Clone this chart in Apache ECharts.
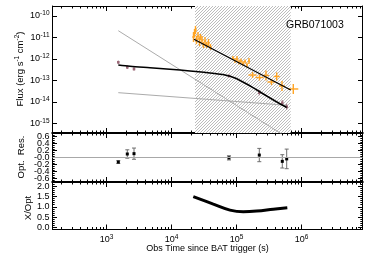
<!DOCTYPE html>
<html><head><meta charset="utf-8">
<script src="https://cdn.jsdelivr.net/npm/echarts@6/dist/echarts.min.js"></script>
<style>html,body{margin:0;padding:0;background:#fff}#c{width:374px;height:267px}</style>
</head><body><div id="c"></div>
<script>
// ---------- data ----------
const xrayT = [21800,22600,23400,24200,25600,27000,27900,29500,31100,32800,34600,37100,39800,
  88400,94800,101800,109300,117300,125900,135100,145000,155700,
  176300,225900,284400,345500,415300,501200,747800];
const xrayF = [1.055e-11,1.62e-11,2.23e-11,7.65e-12,1.174e-11,6.17e-12,1.055e-11,7.65e-12,4.48e-12,6.87e-12,4.48e-12,5.55e-12,3.61e-12,
  1.113e-12,8.51e-13,1.0e-12,7.25e-13,8.07e-13,6.17e-13,7.65e-13,5.26e-13,8.07e-13,
  1.80e-13,1.378e-13,1.708e-13,8.51e-14,1.535e-13,5.55e-14,4.03e-14];
const xrayTerrDex = [0.02,0.02,0.02,0.02,0.02,0.02,0.02,0.02,0.02,0.02,0.02,0.02,0.02,
  0.015,0.015,0.015,0.015,0.015,0.015,0.015,0.015,0.015,
  0.062,0.062,0.046,0.062,0.046,0.046,0.077];
const xrayFerrDex = [0.23,0.19,0.19,0.19,0.19,0.19,0.14,0.19,0.14,0.19,0.14,0.19,0.14,
  0.093,0.116,0.14,0.116,0.116,0.116,0.093,0.116,0.14,
  0.14,0.14,0.23,0.14,0.19,0.23,0.23];

const optT = [1520,2090,2650,76600,224300,506500,592000];
const optF = [7.03e-13,4.11e-13,3.43e-13,1.62e-13,2.71e-14,9.27e-15,6.04e-15];
const optFerrDex = [0.08,0.08,0.08,0.06,0.12,0.12,0.14];
const optRes = [-0.13,0.10,0.11,-0.01,0.07,-0.11,-0.04];
const optResErr = [0.04,0.12,0.16,0.06,0.19,0.19,0.28];

const optFitT = [1520,2300,4670,9480,19260,39100,66500,94800,143500,200000,291500,405000,592000];
const optFitF = [5.26e-13,4.57e-13,3.90e-13,3.32e-13,2.77e-13,2.23e-13,1.80e-13,1.306e-13,6.87e-14,3.81e-14,1.90e-14,1.055e-14,5.55e-15];
const xrayFitT = [22190,682100];
const xrayFitF = [8.25e-12,3.61e-14];
const compSteepT = [1520,682000];
const compSteepF = [2.07e-11,1.764e-16];
const compFlatT = [1520,592000];
const compFlatF = [2.71e-14,7.03e-15];

const ratioT = [21650,44000,79400,127300,204600,368000,605000];
const ratioV = [1.49,1.13,0.84,0.76,0.79,0.88,0.95];

const hatchT = [23000,682000];

const xMajor = [1e3,1e4,1e5,1e6];
const fluxMajor = [1e-15,1e-14,1e-13,1e-12,1e-11,1e-10];
const resMajor = [-0.6,-0.4,-0.2,0,0.2,0.4,0.6];
const ratioMajor = [0,0.5,1.0,1.5,2.0];

// ---------- layout constants ----------
const XMIN = 147.7, XMAX = 8.68e6;
const YMIN = 3.61e-16, YMAX = 2.92e-10;
const FONT = '"Liberation Sans", Arial, Helvetica, sans-serif';
const ORANGE = '#ffa424';
const OPTC = '#9c6b7a';

const xMinor = [];
for (let d = 100; d <= 1e6; d *= 10) for (let m = 2; m <= 9; m++) { const v = m * d; if (v > XMIN && v < XMAX) xMinor.push(v); }
const resMinor = [];
for (let k = -13; k <= 13; k++) if (k % 4 !== 0) resMinor.push(+(k * 0.05).toFixed(2));
const ratioMinor = [];
for (let k = -1; k <= 22; k++) if (k % 5 !== 0) ratioMinor.push(+(k * 0.1).toFixed(1));

const richLbl = {
  b: {fontSize: 9, fontFamily: FONT, color: '#000', lineHeight: 12},
  s: {fontSize: 6.5, fontFamily: FONT, color: '#000', lineHeight: 6, verticalAlign: 'top'}
};

const grids = [
  {left: 52.5, right: 11.5, top: 6, height: 127},
  {left: 52.5, right: 11.5, top: 133, height: 49},
  {left: 52.5, right: 11.5, top: 182, height: 47.5}
];

function xAx(gi, pos, major, showLabel, lineW) {
  return {
    gridIndex: gi, type: 'log', logBase: 10, min: XMIN, max: XMAX, position: pos,
    axisLine: {show: major, onZero: false, lineStyle: {color: '#000', width: lineW}},
    axisTick: {show: true, inside: true, length: major ? 5 : 2.5, customValues: major ? xMajor : xMinor,
      lineStyle: {color: '#000', width: 1}},
    axisLabel: {show: showLabel, customValues: xMajor, interval: 0, margin: 4, hideOverlap: false,
      showMinLabel: true, showMaxLabel: true,
      formatter: v => '{b|10}{s|' + Math.round(Math.log10(v)) + '}', rich: richLbl},
    splitLine: {show: false}, minorTick: {show: false}, minorSplitLine: {show: false}
  };
}
// labels are split over two co-located axes so that neighbouring labels never collide
function yAx(gi, pos, major, cfg) {
  const lbls = major ? cfg.labelsA : cfg.labelsB;
  const o = {
    gridIndex: gi, type: cfg.type, min: cfg.min, max: cfg.max, position: pos,
    axisLine: {show: major, onZero: false, lineStyle: {color: '#000', width: 1}},
    axisTick: {show: major || !!cfg.minor, inside: true, length: major ? 4.5 : 2.2,
      customValues: major ? cfg.major : (cfg.minor || cfg.major), lineStyle: {color: '#000', width: 1}},
    axisLabel: {show: pos === 'left' && lbls.length > 0, customValues: lbls.length ? lbls : cfg.major,
      interval: 0, margin: 3, hideOverlap: false, showMinLabel: true, showMaxLabel: true,
      formatter: cfg.fmt, rich: richLbl, fontSize: 9, fontFamily: FONT, color: '#000'},
    splitLine: {show: false}, minorTick: {show: false}, minorSplitLine: {show: false}
  };
  if (cfg.type === 'log') o.logBase = 10;
  return o;
}
const yCfg = [
  {type: 'log', min: YMIN, max: YMAX, major: fluxMajor, minor: null,
    labelsA: fluxMajor, labelsB: [],
    fmt: v => '{b|10}{s|-' + Math.round(-Math.log10(v)) + '}'},
  {type: 'value', min: -0.7, max: 0.7, major: resMajor, minor: resMinor,
    labelsA: [-0.6, -0.2, 0.2, 0.6], labelsB: [-0.4, 0, 0.4],
    fmt: v => Math.abs(v) < 1e-9 ? '-0.0' : v.toFixed(1)},
  {type: 'value', min: -0.1, max: 2.2, major: ratioMajor, minor: ratioMinor,
    labelsA: [0, 1.0, 2.0], labelsB: [0.5, 1.5],
    fmt: v => v.toFixed(1)}
];
const xLineW = [[2, 1], [2, 2], [1, 2]]; // [bottom, top] widths per grid
const xAxes = [], yAxes = [];
for (let g = 0; g < 3; g++) {
  xAxes.push(xAx(g, 'bottom', true, g === 2, xLineW[g][0]));
  xAxes.push(xAx(g, 'bottom', false, false, 1));
  xAxes.push(xAx(g, 'top', true, false, xLineW[g][1]));
  xAxes.push(xAx(g, 'top', false, false, 1));
  yAxes.push(yAx(g, 'left', true, yCfg[g]));
  yAxes.push(yAx(g, 'left', false, yCfg[g]));
  yAxes.push(yAx(g, 'right', true, yCfg[g]));
  yAxes.push(yAx(g, 'right', false, yCfg[g]));
}
yAxes[1].axisTick.show = false; yAxes[3].axisTick.show = false;

// hatch pattern
const pc = document.createElement('canvas');
pc.width = 3; pc.height = 3;
const cx = pc.getContext('2d');
cx.fillStyle = '#ffffff'; cx.fillRect(0, 0, 3, 3);
cx.strokeStyle = '#b4b4b4'; cx.lineWidth = 0.9;
cx.beginPath();
for (const k of [-3, 0, 3]) { cx.moveTo(k, 3); cx.lineTo(k + 3, 0); }
cx.stroke();

const zip = (a, b) => a.map((v, i) => [v, b[i]]);
const xrayData = xrayT.map((t, i) => [t, xrayF[i],
  t * Math.pow(10, -xrayTerrDex[i]), t * Math.pow(10, xrayTerrDex[i]),
  xrayF[i] * Math.pow(10, -xrayFerrDex[i]), xrayF[i] * Math.pow(10, xrayFerrDex[i])]);
const optData = optT.map((t, i) => [t, optF[i],
  optF[i] * Math.pow(10, -optFerrDex[i]), optF[i] * Math.pow(10, optFerrDex[i])]);
const resData = optT.map((t, i) => [t, optRes[i], optRes[i] - optResErr[i], optRes[i] + optResErr[i]]);

function seg(a, b, st) { return {type: 'line', shape: {x1: a[0], y1: a[1], x2: b[0], y2: b[1]}, style: st}; }

const option = {
  animation: false,
  backgroundColor: '#fff',
  grid: grids,
  xAxis: xAxes,
  yAxis: yAxes,
  series: [
    {type: 'line', xAxisIndex: 0, yAxisIndex: 0, data: [[XMIN, YMIN]], symbol: 'none', z: 1,
      lineStyle: {width: 0, opacity: 0}, silent: true,
      markArea: {silent: true, itemStyle: {color: {image: pc, repeat: 'repeat'}, opacity: 1},
        data: [[{xAxis: hatchT[0], yAxis: YMIN}, {xAxis: hatchT[1], yAxis: YMAX}]]}},
    {type: 'line', xAxisIndex: 0, yAxisIndex: 0, data: zip(compSteepT, compSteepF), symbol: 'none', z: 3,
      lineStyle: {color: '#ababab', width: 1}},
    {type: 'line', xAxisIndex: 0, yAxisIndex: 0, data: zip(compFlatT, compFlatF), symbol: 'none', z: 3,
      lineStyle: {color: '#ababab', width: 1}},
    {type: 'custom', xAxisIndex: 0, yAxisIndex: 0, data: xrayData, z: 4,
      encode: {x: 0, y: 1},
      renderItem: (p, api) => {
        const t = api.value(0), f = api.value(1);
        const st = {stroke: ORANGE, lineWidth: 1.4};
        return {type: 'group', children: [
          seg(api.coord([api.value(2), f]), api.coord([api.value(3), f]), st),
          seg(api.coord([t, api.value(4)]), api.coord([t, api.value(5)]), st)
        ]};
      }},
    {type: 'custom', xAxisIndex: 0, yAxisIndex: 0, data: optData, z: 4,
      encode: {x: 0, y: 1},
      renderItem: (p, api) => {
        const t = api.value(0), c = api.coord([t, api.value(1)]);
        const st = {stroke: OPTC, lineWidth: 1};
        return {type: 'group', children: [
          seg(api.coord([t, api.value(2)]), api.coord([t, api.value(3)]), st),
          {type: 'rect', shape: {x: c[0] - 1.3, y: c[1] - 1.3, width: 2.6, height: 2.6}, style: {fill: OPTC}}
        ]};
      }},
    {type: 'line', xAxisIndex: 0, yAxisIndex: 0, data: zip(xrayFitT, xrayFitF), symbol: 'none', z: 5,
      lineStyle: {color: '#000', width: 1.2}},
    {type: 'line', xAxisIndex: 0, yAxisIndex: 0, data: zip(optFitT, optFitF), symbol: 'none', z: 5,
      smooth: 0.3, lineStyle: {color: '#000', width: 1.5}},
    {type: 'custom', xAxisIndex: 4, yAxisIndex: 4, data: resData, z: 4,
      encode: {x: 0, y: 1},
      renderItem: (p, api) => {
        const t = api.value(0), c = api.coord([t, api.value(1)]);
        const lo = api.coord([t, api.value(2)]), hi = api.coord([t, api.value(3)]);
        const st = {stroke: '#6e6e6e', lineWidth: 1};
        return {type: 'group', children: [
          seg(lo, hi, st),
          seg([lo[0] - 2, lo[1]], [lo[0] + 2, lo[1]], st),
          seg([hi[0] - 2, hi[1]], [hi[0] + 2, hi[1]], st),
          {type: 'rect', shape: {x: c[0] - 1.5, y: c[1] - 1.5, width: 3, height: 3}, style: {fill: '#000'}}
        ]};
      },
      markLine: {silent: true, symbol: 'none', label: {show: false},
        lineStyle: {color: '#a8a8a8', width: 1, type: 'solid'}, data: [{yAxis: 0}]}},
    {type: 'line', xAxisIndex: 8, yAxisIndex: 8, data: zip(ratioT, ratioV), symbol: 'none', z: 5,
      smooth: 0.4, lineStyle: {color: '#000', width: 3}}
  ],
  graphic: [
    {type: 'text', x: 286, y: 25, z: 10, style: {text: 'GRB071003', fontSize: 10.5, fontFamily: FONT, fill: '#000',
      align: 'left', verticalAlign: 'middle'}},
    {type: 'text', x: 20.5, y: 69, rotation: Math.PI / 2, z: 10, style: {
      text: '{b|Flux (erg s}{s|-1}{b| cm}{s|-2}{b|)}', align: 'center', verticalAlign: 'middle',
      rich: {b: {fontSize: 9.5, fontFamily: FONT, fill: '#000', lineHeight: 13},
             s: {fontSize: 6.5, fontFamily: FONT, fill: '#000', lineHeight: 6, verticalAlign: 'top'}}}},
    {type: 'text', x: 21.5, y: 157, rotation: Math.PI / 2, z: 10, style: {text: 'Opt.  Res.', fontSize: 9.5,
      fontFamily: FONT, fill: '#000', align: 'center', verticalAlign: 'middle'}},
    {type: 'text', x: 28.5, y: 208, rotation: Math.PI / 2, z: 10, style: {text: 'X/Opt', fontSize: 9.5,
      fontFamily: FONT, fill: '#000', align: 'center', verticalAlign: 'middle'}},
    {type: 'text', x: 207.5, y: 248.5, z: 10, style: {text: 'Obs Time since BAT trigger (s)', fontSize: 9,
      fontFamily: FONT, fill: '#000', align: 'center', verticalAlign: 'middle'}}
  ]
};
const chart = echarts.init(document.getElementById('c'), null, {renderer: 'canvas'});
chart.setOption(option);
</script>
</body></html>
